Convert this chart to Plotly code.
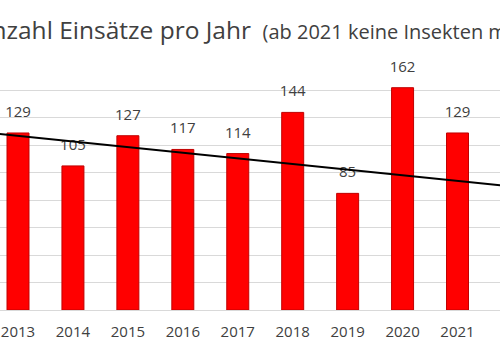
import plotly.graph_objects as go

years = [2013, 2014, 2015, 2016, 2017, 2018, 2019, 2020, 2021]
einsaetze = [129, 105, 127, 117, 114, 144, 85, 162, 129]
tick_years = [2013, 2014, 2015, 2016, 2017, 2018, 2019, 2020, 2021, 2022]
trend_years = [2012, 2022]
trend_values = [131, 90]
y_ticks = [0, 20, 40, 60, 80, 100, 120, 140, 160, 180]

title_main = "Anzahl Einsätze pro Jahr"
title_sub = "(ab 2021 keine Insekten mehr)"

font_family = "Open Sans"
text_color = "#404040"

fig = go.Figure()
fig.add_trace(go.Bar(
    x=years, y=einsaetze, width=0.4,
    marker=dict(color="#FF0000", line=dict(color="#C00000", width=1)),
    hoverinfo="skip",
))
fig.add_trace(go.Scatter(
    x=years, y=einsaetze, mode="markers+text",
    text=[str(v) for v in einsaetze], textposition="top center",
    marker=dict(size=18, opacity=0),
    textfont=dict(family=font_family, size=15, color=text_color),
    hoverinfo="skip", cliponaxis=False,
))
fig.add_trace(go.Scatter(
    x=trend_years, y=trend_values, mode="lines",
    line=dict(color="#000000", width=1.8),
    hoverinfo="skip",
))

fig.add_annotation(
    text=f"{title_main} <span style='font-size:20px'> {title_sub}</span>",
    xref="paper", yref="paper", x=-0.053, xanchor="left",
    y=1 + 33 / 247, yanchor="middle", showarrow=False,
    font=dict(family=font_family, size=24.5, color=text_color),
)

fig.update_layout(
    width=500, height=360,
    margin=dict(l=0, r=0, t=63, b=50),
    paper_bgcolor="white", plot_bgcolor="white",
    showlegend=False,
    xaxis=dict(
        range=[2013 - 18 / 54.94, 2013 + 482 / 54.94],
        tickvals=tick_years, ticktext=[str(t) for t in tick_years],
        showgrid=False, zeroline=False,
        showline=True, linecolor="#D9D9D9", linewidth=1,
        ticks="", ticklabelstandoff=8,
        tickfont=dict(family=font_family, size=15, color=text_color),
    ),
    yaxis=dict(
        range=[0, 180], tickvals=y_ticks,
        showgrid=True, gridcolor="#D9D9D9", gridwidth=1,
        zeroline=False, showticklabels=False,
    ),
)

fig.write_html(
    "out.html",
    config={"displayModeBar": False},
    post_script="document.body.style.margin='0';",
)
